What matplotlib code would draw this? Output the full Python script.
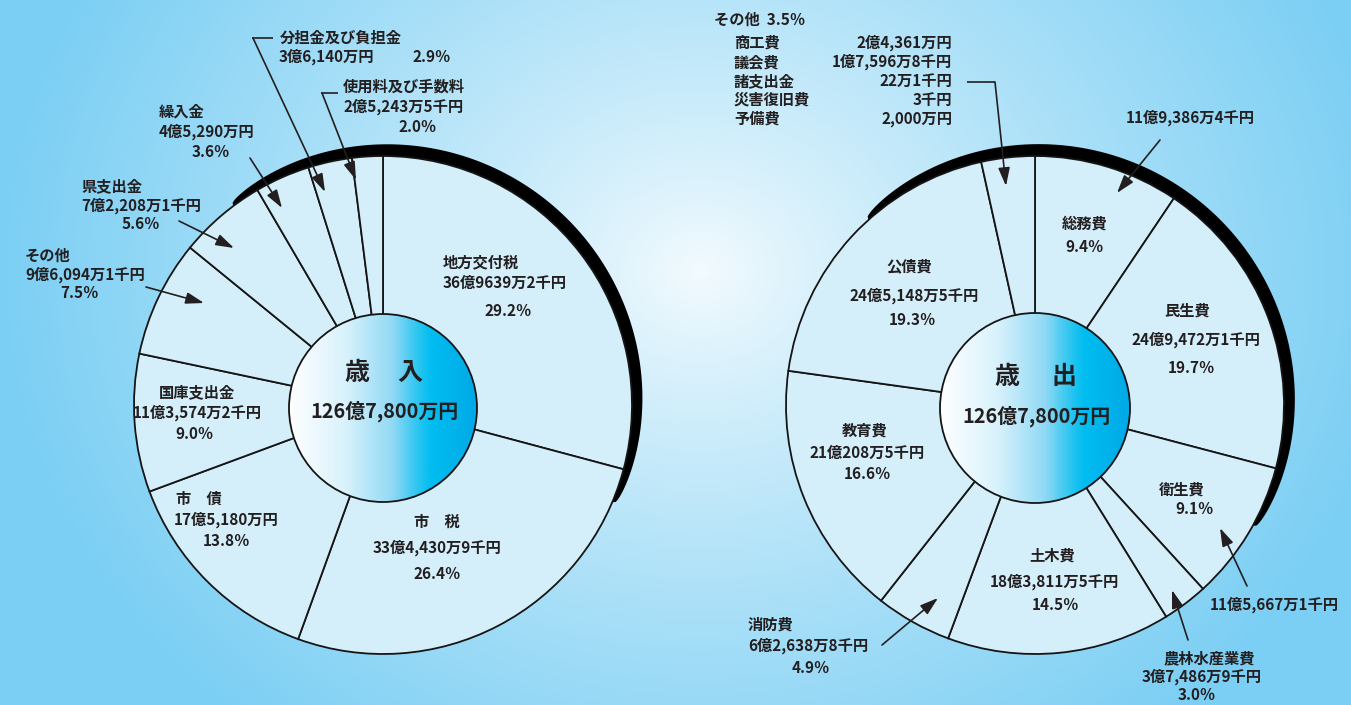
import numpy as np
import matplotlib
matplotlib.use('Agg')
import matplotlib.pyplot as plt
from matplotlib.patches import Circle, Polygon
from matplotlib.colors import LinearSegmentedColormap, to_rgb

# ---------------- data ----------------
rev_names = ['地方交付税', '市　税', '市　債', '国庫支出金', 'その他', '県支出金',
             '繰入金', '分担金及び負担金', '使用料及び手数料']
rev_values = [369639.2, 334430.9, 175180.0, 113574.2, 96094.1, 72208.1,
              45290.0, 36140.0, 25243.5]          # 万円
rev_amount_text = ['36億9639万2千円', '33億4,430万9千円', '17億5,180万円', '11億3,574万2千円',
                   '9億6,094万1千円', '7億2,208万1千円', '4億5,290万円', '3億6,140万円',
                   '2億5,243万5千円']
rev_pct = [29.2, 26.4, 13.8, 9.0, 7.5, 5.6, 3.6, 2.9, 2.0]

exp_names = ['総務費', '民生費', '衛生費', '農林水産業費', '土木費', '消防費', '教育費', '公債費', 'その他']
exp_values = [119386.4, 249472.1, 115667.1, 37486.9, 183811.5, 62638.8, 210208.5, 245148.5, 43980.2]
exp_amount_text = ['11億9,386万4千円', '24億9,472万1千円', '11億5,667万1千円', '3億7,486万9千円',
                   '18億3,811万5千円', '6億2,638万8千円', '21億208万5千円', '24億5,148万5千円', '']
exp_pct = [9.4, 19.7, 9.1, 3.0, 14.5, 4.9, 16.6, 19.3, 3.5]

other_items = ['商工費', '議会費', '諸支出金', '災害復旧費', '予備費']
other_amount_text = ['2億4,361万円', '1億7,596万8千円', '22万1千円', '3千円', '2,000万円']

total_text = '126億7,800万円'

# ---------------- figure ----------------
W, H = 1351, 705
fig = plt.figure(figsize=(W / 100, H / 100), dpi=100)
ax = fig.add_axes([0, 0, 1, 1])
ax.set_autoscale_on(False)
ax.set_xlim(0, W)
ax.set_ylim(0, H)
ax.axis('off')

FONT = ['Noto Sans CJK JP', 'DejaVu Sans']
INK = '#231f20'
LSIZE = 11


def Y(y):
    return H - y


# background gradient
yy, xx = np.mgrid[0:H, 0:W]
d = np.hypot((xx - 700) / 1.0, (yy - 270) / 0.85)
t = np.clip(d / 700, 0, 1) ** 0.85
c0 = np.array(to_rgb('#f4fbfe'))
c1 = np.array(to_rgb('#7ccff4'))
bg = c0 + (c1 - c0) * t[..., None]
ax.imshow(bg, extent=[0, W, 0, H], origin='upper', zorder=0, aspect='auto')

disc_cmap = LinearSegmentedColormap.from_list(
    'disc', [(0, '#ffffff'), (0.3, '#d8f2fc'), (0.55, '#92d9f5'),
             (0.70, '#22c4f0'), (0.76, '#00bdf0'), (1.0, '#00a9e6')])


def draw_pie(vals, cx, cy, R, th1, th2, T):
    # black shadow arc
    th = np.linspace(th1, th2, 400)
    tk = T * np.sin(np.pi * (th - th1) / (th2 - th1)) ** 0.3
    rad = np.radians(th)
    outer = np.c_[cx + (R + tk) * np.cos(rad), cy + (R + tk) * np.sin(rad)]
    inner = np.c_[cx + (R - 2) * np.cos(rad[::-1]), cy + (R - 2) * np.sin(rad[::-1])]
    ax.add_patch(Polygon(np.vstack([outer, inner]), closed=True, fc='black', ec='none', zorder=1))
    ax.pie(vals, center=(cx, cy), radius=R, startangle=90, counterclock=False,
           colors=['#d4eefa'] * len(vals), frame=True,
           wedgeprops=dict(edgecolor='#151515', linewidth=1.3, zorder=2))


def center_disc(cx, cy, r):
    grad = np.linspace(0, 1, 256)[None, :]
    im = ax.imshow(grad, cmap=disc_cmap, extent=[cx - r, cx + r, cy - r, cy + r],
                   zorder=3, aspect='auto', interpolation='bilinear')
    clip = Circle((cx, cy), r, transform=ax.transData)
    im.set_clip_path(clip)
    ax.add_patch(Circle((cx, cy), r, fc='none', ec='#151515', lw=1.3, zorder=4))


def txt(x, y, s, ha='center', size=LSIZE, weight='bold'):
    ax.text(x, Y(y), s, ha=ha, va='center', fontsize=size, fontweight=weight,
            color=INK, family=FONT, zorder=6)


def arrow(x0, y0, x1, y1):
    ax.annotate('', xy=(x1, Y(y1)), xytext=(x0, Y(y0)),
                arrowprops=dict(arrowstyle='-|>,head_length=1.1,head_width=0.35',
                                color=INK, lw=1.2, shrinkA=0, shrinkB=0), zorder=6)


def seg(xs, ys):
    ax.plot(xs, [Y(v) for v in ys], color=INK, lw=1.2, zorder=6, solid_capstyle='butt')


# ---------------- pies ----------------
LCX, LCY, R = 383, Y(405), 249
RCX, RCY = 1035, Y(405)
draw_pie(rev_values, LCX, LCY, R, -23, 127, 13)
draw_pie(exp_values, RCX, RCY, R, -29, 132, 13)
center_disc(LCX, Y(408), 94)
center_disc(RCX, Y(408), 95)
ax.set_xlim(0, W)
ax.set_ylim(0, H)

# center texts
txt(357, 373, '歳', size=18)
txt(410, 373, '入', size=18)
txt(384, 411, total_text, size=14.3)
txt(1007, 377, '歳', size=18)
txt(1064, 377, '出', size=18)
txt(1036, 416, total_text, size=14.3)

# ---------------- revenue labels ----------------
rev_layout = [
    ((443, 262, 'left'), (443, 283, 'left'), (508, 311, 'center')),
    ((437, 522, 'center'), (437, 548, 'center'), (437, 574, 'center')),
    ((176, 499, 'left'), (226, 520, 'center'), (226, 541, 'center')),
    ((197, 392, 'center'), (197, 413, 'center'), (194, 434, 'center')),
    ((25, 256, 'left'), (25, 275, 'left'), (79, 293, 'center')),
    ((81, 186, 'left'), (81, 206, 'left'), (141, 224, 'center')),
    ((159, 112, 'left'), (159, 132, 'left'), (211, 152, 'center')),
    ((280, 38, 'left'), (279, 57, 'left'), (432, 57, 'center')),
    ((343, 87, 'left'), (343, 107, 'left'), (418, 127, 'center')),
]
for name, amt, p, lay in zip(rev_names, rev_amount_text, rev_pct, rev_layout):
    (nx, ny, nh), (ax_, ay, ah), (px, py, ph) = lay
    txt(nx, ny, name, ha=nh)
    txt(ax_, ay, amt, ha=ah)
    txt(px, py, f'{p:.1f}％', ha=ph)

arrow(146, 287, 204, 303)
arrow(179, 221, 234, 248)
arrow(250, 158, 282, 208)
seg([273, 252], [38, 38])
arrow(253, 38, 325, 192)
seg([338, 321], [93, 93])
arrow(322, 93, 356, 180)

# ---------------- expenditure labels ----------------
# 総務費
txt(1085, 224, exp_names[0])
txt(1085, 247, f'{exp_pct[0]:.1f}％')
txt(1190, 118, exp_amount_text[0])
arrow(1160, 140, 1117, 193)
# 民生費
txt(1187, 311, exp_names[1])
txt(1196, 340, exp_amount_text[1])
txt(1191, 368, f'{exp_pct[1]:.1f}％')
# 衛生費
txt(1182, 490, exp_names[2])
txt(1195, 509, f'{exp_pct[2]:.1f}％')
txt(1274, 605, exp_amount_text[2])
arrow(1247, 586, 1220, 528)
# 農林水産業費
txt(1209, 658, exp_names[3])
txt(1202, 677, exp_amount_text[3])
txt(1197, 695, f'{exp_pct[3]:.1f}％')
arrow(1188, 640, 1172, 590)
# 土木費
txt(1052, 556, exp_names[4])
txt(1054, 582, exp_amount_text[4])
txt(1055, 605, f'{exp_pct[4]:.1f}％')
# 消防費
txt(748, 625, exp_names[5], ha='left')
txt(748, 646, exp_amount_text[5], ha='left')
txt(811, 668, f'{exp_pct[5]:.1f}％')
arrow(882, 645, 938, 598)
# 教育費
txt(865, 431, exp_names[6])
txt(867, 453, exp_amount_text[6])
txt(867, 474, f'{exp_pct[6]:.1f}％')
# 公債費
txt(909, 266, exp_names[7])
txt(914, 296, exp_amount_text[7])
txt(912, 320, f'{exp_pct[7]:.1f}％')
# その他
txt(714, 20, f'{exp_names[8]}  {exp_pct[8]:.1f}％', ha='left')
for i, (nm, am) in enumerate(zip(other_items, other_amount_text)):
    yy_ = 43 + i * 19
    txt(734, yy_, nm, ha='left')
    txt(952, yy_, am, ha='right')
seg([967, 995], [82, 82])
arrow(995, 82, 1006, 186)

fig.savefig('out.png', dpi=100)
